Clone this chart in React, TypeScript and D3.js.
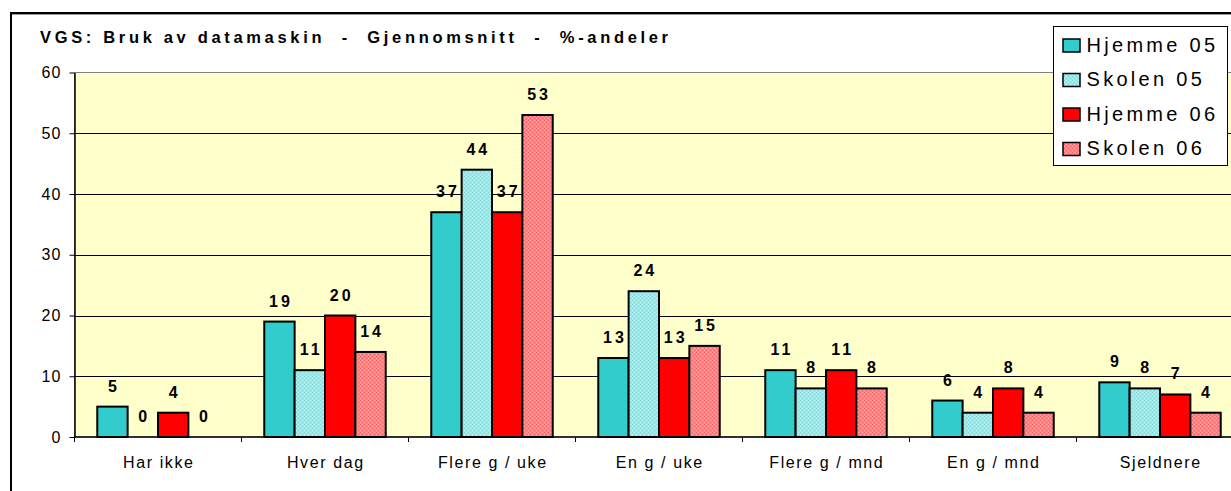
import { useEffect, useRef } from 'react';
import * as d3 from 'd3';

const categories = ['Har ikke', 'Hver dag', 'Flere g / uke', 'En g / uke', 'Flere g / mnd', 'En g / mnd', 'Sjeldnere'];
const seriesNames = ['Hjemme 05', 'Skolen 05', 'Hjemme 06', 'Skolen 06'];
const hjemme05 = [5, 19, 37, 13, 11, 6, 9];
const skolen05 = [0, 11, 44, 24, 8, 4, 8];
const hjemme06 = [4, 20, 37, 13, 11, 8, 7];
const skolen06 = [0, 14, 53, 15, 8, 4, 4];
const yTicks = [0, 10, 20, 30, 40, 50, 60];
const title = 'VGS: Bruk av datamaskin  -  Gjennomsnitt  -  %-andeler';

const App = () => {
	const ref = useRef<SVGSVGElement>(null);

	useEffect(() => {
		const svg = d3.select(ref.current);
		svg.selectAll('*').remove();

		const font = "'Liberation Sans', Arial, sans-serif";
		const plot = { left: 74.5, right: 1243.5, top: 72.5, bottom: 437 };
		const values = [hjemme05, skolen05, hjemme06, skolen06];
		const fills = ['#33cccc', 'url(#pat-s05)', '#ff0000', 'url(#pat-s06)'];

		// patterns for the textured bars
		const defs = svg.append('defs');
		const mkPattern = (id, base, dot, dot2) => {
			const p = defs
				.append('pattern')
				.attr('id', id)
				.attr('width', 4)
				.attr('height', 4)
				.attr('patternUnits', 'userSpaceOnUse');
			p.append('rect').attr('width', 4).attr('height', 4).attr('fill', base);
			p.append('rect').attr('x', 0).attr('y', 0).attr('width', 1).attr('height', 1).attr('fill', dot);
			p.append('rect').attr('x', 2).attr('y', 2).attr('width', 1).attr('height', 1).attr('fill', dot);
			p.append('rect').attr('x', 2).attr('y', 0).attr('width', 1).attr('height', 1).attr('fill', dot2);
			p.append('rect').attr('x', 0).attr('y', 2).attr('width', 1).attr('height', 1).attr('fill', dot2);
		};
		mkPattern('pat-s05', '#9fe6e6', '#7adcdc', '#c0f2f2');
		mkPattern('pat-s06', '#ff8282', '#ff6464', '#ffaaaa');

		// outer frame (left + top edge visible)
		svg.append('line').attr('x1', 10).attr('x2', 1231).attr('y1', 13).attr('y2', 13).attr('stroke', '#000').attr('stroke-width', 2);
		svg.append('line').attr('x1', 10).attr('x2', 1231).attr('y1', 14.5).attr('y2', 14.5).attr('stroke', '#999').attr('stroke-width', 1);
		svg.append('line').attr('x1', 11).attr('x2', 11).attr('y1', 12).attr('y2', 491).attr('stroke', '#000').attr('stroke-width', 2);

		// title
		svg
			.append('text')
			.attr('x', 40)
			.attr('y', 43)
			.attr('font-family', font)
			.attr('font-weight', 'bold')
			.attr('font-size', 16.5)
			.attr('textLength', 628)
			.attr('lengthAdjust', 'spacing')
			.style('white-space', 'pre')
			.text(title);

		// scales
		const x0 = d3.scaleBand().domain(categories).range([plot.left, plot.right]);
		const x1 = d3.scaleBand().domain(seriesNames).range([0, x0.bandwidth()]).paddingInner(0).paddingOuter(0.75);
		const y = d3.scaleLinear().domain([0, 60]).range([plot.bottom, plot.top]);

		// plot background
		svg
			.append('rect')
			.attr('x', plot.left)
			.attr('y', plot.top)
			.attr('width', plot.right - plot.left)
			.attr('height', plot.bottom - plot.top)
			.attr('fill', '#ffffcc')
			.attr('stroke', '#808080')
			.attr('stroke-width', 1);

		// gridlines
		svg
			.append('g')
			.selectAll('line')
			.data(yTicks.slice(1, -1))
			.join('line')
			.attr('x1', plot.left)
			.attr('x2', plot.right)
			.attr('y1', (d) => Math.round(y(d)) + 0.5)
			.attr('y2', (d) => Math.round(y(d)) + 0.5)
			.attr('stroke', '#000')
			.attr('stroke-width', 1);

		// y axis
		const yAxis = svg
			.append('g')
			.attr('transform', `translate(${plot.left},0)`)
			.call(d3.axisLeft(y).tickValues(yTicks).tickSize(5).tickSizeOuter(0).tickPadding(9));
		yAxis.select('.domain').attr('stroke', '#000').attr('stroke-width', 1.5);
		yAxis.selectAll('line').attr('stroke', '#000');
		yAxis
			.selectAll('text')
			.attr('font-family', font)
			.attr('font-size', 16)
			.attr('letter-spacing', 1.2)
			.attr('dx', 1.2)
			.attr('fill', '#000');

		// x axis
		const xAxisG = svg.append('g').attr('transform', `translate(0,${plot.bottom})`);
		xAxisG
			.append('line')
			.attr('x1', plot.left)
			.attr('x2', plot.right)
			.attr('stroke', '#000')
			.attr('stroke-width', 1.5);
		xAxisG
			.selectAll('.sep')
			.data(categories)
			.join('line')
			.attr('class', 'sep')
			.attr('x1', (d) => x0(d))
			.attr('x2', (d) => x0(d))
			.attr('y1', 0)
			.attr('y2', 5)
			.attr('stroke', '#000');
		xAxisG
			.selectAll('.cat')
			.data(categories)
			.join('text')
			.attr('class', 'cat')
			.attr('x', (d) => x0(d) + x0.bandwidth() / 2 + 0.8)
			.attr('y', 31)
			.attr('text-anchor', 'middle')
			.attr('font-family', font)
			.attr('font-size', 16)
			.attr('letter-spacing', 1.6)
			.text((d) => d);

		// bars
		seriesNames.forEach((s, si) => {
			const g = svg.append('g');
			const rows = categories.map((c, ci) => ({ c, v: values[si][ci] }));
			g.selectAll('rect')
				.data(rows.filter((d) => d.v > 0))
				.join('rect')
				.attr('x', (d) => x0(d.c) + x1(s))
				.attr('y', (d) => y(d.v))
				.attr('width', x1.bandwidth())
				.attr('height', (d) => y(0) - y(d.v))
				.attr('fill', fills[si])
				.attr('stroke', '#000')
				.attr('stroke-width', 2);
			g.selectAll('text')
				.data(rows)
				.join('text')
				.attr('x', (d) => x0(d.c) + x1(s) + x1.bandwidth() / 2 + 1.5)
				.attr('y', (d) => y(d.v) - 15)
				.attr('text-anchor', 'middle')
				.attr('font-family', font)
				.attr('font-weight', 'bold')
				.attr('font-size', 16)
				.attr('letter-spacing', 3)
				.text((d) => d.v);
		});

		// legend
		const lg = svg.append('g');
		lg.append('rect')
			.attr('x', 1053.5)
			.attr('y', 26.5)
			.attr('width', 174)
			.attr('height', 139)
			.attr('fill', '#fff')
			.attr('stroke', '#000')
			.attr('stroke-width', 1);
		const ly = d3.scalePoint().domain(seriesNames).range([51.5, 155]);
		const items = lg.selectAll('g.item').data(seriesNames).join('g').attr('class', 'item');
		items
			.append('rect')
			.attr('x', 1063)
			.attr('y', (d) => ly(d) - 12.5)
			.attr('width', 17)
			.attr('height', 13)
			.attr('fill', (d, i) => fills[i])
			.attr('stroke', '#000')
			.attr('stroke-width', 1.5);
		items
			.append('text')
			.attr('x', 1086.5)
			.attr('y', (d) => ly(d))
			.attr('font-family', font)
			.attr('font-size', 20)
			.attr('letter-spacing', 3.3)
			.text((d) => d);
	}, []);

	return (
		<svg
			ref={ref}
			width={1231}
			height={491}
			style={{ position: 'absolute', left: 0, top: 0, background: '#fff' }}
		></svg>
	);
};

export default App;
